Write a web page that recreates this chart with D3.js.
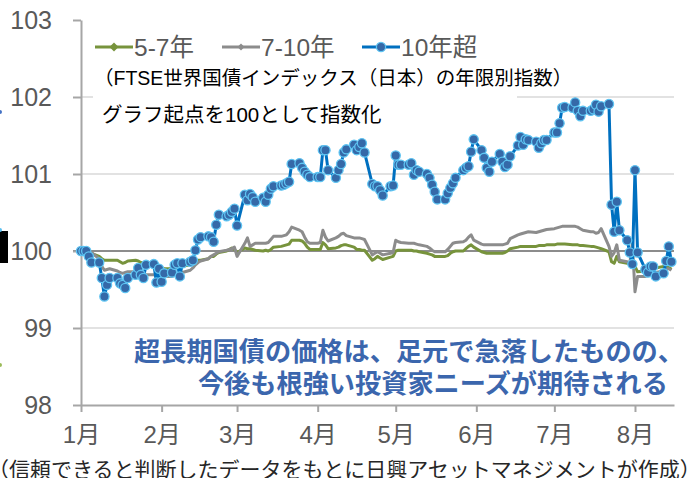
<!DOCTYPE html>
<html>
<head>
<meta charset="utf-8">
<script src="https://cdn.jsdelivr.net/npm/d3@7"></script>
<style>
  html, body { margin: 0; padding: 0; background: #fff; }
  #chart { width: 691px; height: 478px; overflow: hidden; }
  text { font-family: "Liberation Sans", "Noto Sans CJK JP", sans-serif; }
</style>
</head>
<body>
<div id="chart"></div>
<script>
// Series labels and axis ticks
const seriesNames = ['5-7年', '7-10年', '10年超'];
const yTicks = [98, 99, 100, 101, 102, 103];
const monthLabels = ['1月', '2月', '3月', '4月', '5月', '6月', '7月', '8月'];

// Daily index values (business days, Jan 1 - Aug 15), one line per month
const green = [
    100.00, 100.00, 100.00, 99.99, 99.97, 99.93, 99.90, 99.88, 99.88, 99.88, 99.88, 99.86, 99.84, 99.85, 99.87, 99.88, 99.87, 99.85, 99.84, 99.82, 99.81, 99.80, 99.78,
    99.78, 99.77, 99.77, 99.78, 99.78, 99.79, 99.80, 99.82, 99.84, 99.86, 99.88, 99.88, 99.90, 99.93, 99.93, 99.96, 99.98, 100.00, 100.02, 100.04, 100.02,
    99.98, 100.04, 100.03, 100.03, 100.02, 100.01, 100.00, 100.01, 100.00, 100.02, 100.05, 100.06, 100.07, 100.08, 100.09, 100.14, 100.14, 100.13, 100.10, 100.05, 100.02,
    100.02, 100.02, 100.11, 100.08, 100.03, 100.04, 100.05, 100.07, 100.08, 100.08, 100.05, 100.02, 100.02, 100.01, 100.01, 99.88, 99.90, 99.93, 99.91, 99.89, 99.92, 99.93,
    100.00, 100.01, 100.01, 100.01, 100.01, 100.00, 100.00, 99.99, 99.97, 99.96, 99.95, 99.93, 99.93, 99.93, 99.94, 99.97, 99.99, 100.00, 100.00, 100.03, 100.06, 100.08, 100.05,
    99.99, 99.98, 99.97, 99.97, 99.97, 99.97, 99.97, 99.98, 100.00, 100.03, 100.05, 100.06, 100.06, 100.06, 100.06, 100.06, 100.07, 100.07, 100.07, 100.08,
    100.08, 100.09, 100.09, 100.09, 100.09, 100.08, 100.08, 100.08, 100.07, 100.07, 100.06, 100.06, 100.05, 100.04, 100.03, 99.99, 99.86, 99.84, 99.93, 99.86, 99.84, 99.84, 99.82,
    99.80, 99.73, 99.74, 99.75, 99.75, 99.77, 99.78, 99.80, 99.79, 99.79, 99.76
];
const gray = [
    100.00, 100.00, 100.00, 100.00, 99.98, 99.90, 99.80, 99.75, 99.76, 99.77, 99.74, 99.72, 99.71, 99.72, 99.73, 99.73, 99.72, 99.72, 99.70, 99.69, 99.69, 99.68, 99.68,
    99.67, 99.67, 99.67, 99.68, 99.70, 99.71, 99.72, 99.75, 99.78, 99.82, 99.85, 99.87, 99.90, 99.93, 99.95, 99.97, 99.99, 100.01, 100.02, 100.03, 100.05,
    99.93, 100.10, 100.17, 100.06, 100.08, 100.10, 100.10, 100.10, 100.11, 100.15, 100.19, 100.19, 100.20, 100.21, 100.25, 100.31, 100.27, 100.25, 100.18, 100.12, 100.10,
    100.10, 100.11, 100.27, 100.18, 100.13, 100.17, 100.19, 100.22, 100.23, 100.20, 100.17, 100.17, 100.17, 100.16, 100.15, 99.95, 99.97, 99.99, 99.97, 99.95, 99.97, 99.98,
    100.14, 100.12, 100.11, 100.10, 100.10, 100.10, 100.09, 100.08, 100.06, 100.04, 100.01, 99.99, 99.99, 99.99, 100.02, 100.06, 100.10, 100.11, 100.12, 100.14, 100.18, 100.21, 100.14,
    100.09, 100.08, 100.08, 100.08, 100.08, 100.08, 100.08, 100.09, 100.10, 100.16, 100.21, 100.22, 100.23, 100.24, 100.25, 100.24, 100.25, 100.26, 100.27, 100.28,
    100.29, 100.30, 100.31, 100.32, 100.32, 100.32, 100.32, 100.31, 100.29, 100.27, 100.25, 100.25, 100.23, 100.24, 100.29, 100.06, 99.93, 99.98, 100.08, 99.88, 99.86, 99.84, 100.10,
    99.47, 99.67, 99.67, 99.68, 99.69, 99.70, 99.72, 99.74, 99.77, 99.77, 99.75
];
const blue = [
    100.00, 100.00, 100.00, 99.93, 99.85, 99.85, 99.65, 99.41, 99.56, 99.65, 99.65, 99.58, 99.56, 99.52, 99.65, 99.69, 99.78, 99.69, 99.65, 99.82, 99.83, 99.59, 99.77,
    99.60, 99.71, 99.72, 99.82, 99.84, 99.67, 99.84, 99.86, 99.88, 100.01, 100.15, 100.18, 100.19, 100.18, 100.12, 100.34, 100.47, 100.45, 100.47, 100.51, 100.55,
    100.33, 100.73, 100.66, 100.74, 100.70, 100.64, 100.69, 100.64, 100.73, 100.81, 100.84, 100.85, 100.86, 100.88, 100.90, 101.13, 101.14, 101.08, 101.03, 100.99, 100.96,
    100.96, 100.96, 101.31, 101.31, 101.05, 100.95, 101.05, 101.13, 101.28, 101.32, 101.38, 101.31, 101.35, 101.40, 101.28, 100.87, 100.84, 100.84, 100.79, 100.72, 100.84, 100.85,
    101.24, 101.12, 101.12, 101.12, 101.14, 100.99, 101.05, 101.03, 101.00, 100.95, 100.86, 100.77, 100.67, 100.67, 100.75, 100.82, 100.88, 100.95, 101.05, 101.08, 101.10, 101.29, 101.45,
    101.31, 101.21, 101.08, 101.03, 101.16, 101.26, 101.16, 101.09, 101.12, 101.23, 101.37, 101.48, 101.38, 101.45, 101.44, 101.42, 101.34, 101.40, 101.44, 101.44,
    101.54, 101.54, 101.66, 101.86, 101.87, 101.86, 101.93, 101.82, 101.75, 101.82, 101.82, 101.84, 101.90, 101.81, 101.88, 101.91, 100.60, 100.25, 100.64, 100.27, 100.14, 99.98, 99.83,
    101.05, 99.98, 99.76, 99.72, 99.80, 99.80, 99.67, 99.71, 99.87, 100.06, 99.86
];

const subtitle1 = '（FTSE世界国債インデックス（日本）の年限別指数）';
const subtitle2 = 'グラフ起点を100として指数化';
const note1 = '超長期国債の価格は、足元で急落したものの、';
const note2 = '今後も根強い投資家ニーズが期待される';
const source = '（信頼できると判断したデータをもとに日興アセットマネジメントが作成）';

function drawChart() {
    const width = 691, height = 478;
    const svg = d3.select('#chart').append('svg')
        .attr('width', width)
        .attr('height', height);

    svg.append('rect').attr('width', width).attr('height', height).attr('fill', '#fff');

    // business days of 2024 from Jan 1 to Aug 15
    const dates = d3.timeDay.range(new Date(2024, 0, 1), new Date(2024, 7, 16))
        .filter(d => d.getDay() !== 0 && d.getDay() !== 6);

    const x = d3.scaleTime()
        .domain([new Date(2024, 0, 1), new Date(2024, 7, 16)])
        .range([81, 674]);
    const y = d3.scaleLinear().domain([98, 103]).range([405, 20]);

    // gridlines
    svg.append('g').selectAll('line')
        .data(yTicks.filter(v => v !== 98 && v !== 100 && v !== 103))
        .enter().append('line')
        .attr('x1', 81).attr('x2', 674)
        .attr('y1', d => y(d)).attr('y2', d => y(d))
        .attr('stroke', '#d9d9d9').attr('stroke-width', 1.5);

    // white box behind the subtitle
    svg.append('rect').attr('x', 93).attr('y', 63).attr('width', 424).attr('height', 63).attr('fill', '#fff');

    // 100 line
    svg.append('line')
        .attr('x1', 73).attr('x2', 674)
        .attr('y1', y(100)).attr('y2', y(100))
        .attr('stroke', '#8c8c8c').attr('stroke-width', 2);

    // axes
    const yAxis = svg.append('g')
        .attr('transform', 'translate(81,0)')
        .call(d3.axisLeft(y).tickValues(yTicks).tickFormat(d3.format('d'))
            .tickSizeInner(8).tickSizeOuter(0).tickPadding(21));
    yAxis.selectAll('text').attr('font-size', 25).attr('fill', '#595959');

    const months = d3.timeMonth.range(new Date(2024, 0, 1), new Date(2024, 7, 2));
    const xAxis = svg.append('g')
        .attr('transform', `translate(0,${y(98)})`)
        .call(d3.axisBottom(x).tickValues(months).tickFormat((d, i) => monthLabels[i])
            .tickSizeInner(7).tickSizeOuter(0).tickPadding(14));
    xAxis.selectAll('text').attr('font-size', 24).attr('fill', '#595959');

    svg.selectAll('.domain, .tick line').attr('stroke', '#a6a6a6').attr('stroke-width', 2);

    const line = d3.line().x((d, i) => x(dates[i])).y(d => y(d));

    svg.append('path').datum(green)
        .attr('d', line).attr('fill', 'none')
        .attr('stroke', '#77933c').attr('stroke-width', 3).attr('stroke-linejoin', 'round');
    svg.append('path').datum(gray)
        .attr('d', line).attr('fill', 'none')
        .attr('stroke', '#8c8c8c').attr('stroke-width', 3).attr('stroke-linejoin', 'round');
    svg.append('path').datum(blue)
        .attr('d', line).attr('fill', 'none')
        .attr('stroke', '#0070c0').attr('stroke-width', 3).attr('stroke-linejoin', 'round');
    svg.append('g').selectAll('circle')
        .data(blue).enter().append('circle')
        .attr('cx', (d, i) => x(dates[i])).attr('cy', d => y(d))
        .attr('r', 4.6)
        .attr('fill', '#3569a8').attr('stroke', '#5ec4f2').attr('stroke-width', 1.3);

    // legend
    const legendX = [95, 222, 362];
    const legendColors = ['#77933c', '#8c8c8c', '#0070c0'];
    const lg = svg.append('g');
    seriesNames.forEach((name, i) => {
        const x0 = legendX[i];
        lg.append('line')
            .attr('x1', x0).attr('x2', x0 + 38).attr('y1', 47).attr('y2', 47)
            .attr('stroke', legendColors[i]).attr('stroke-width', 3);
        if (i < 2) {
            const s = i === 0 ? 4.5 : 3.5;
            lg.append('path')
                .attr('d', `M${x0 + 19},${47 - s}L${x0 + 19 + s},47L${x0 + 19},${47 + s}L${x0 + 19 - s},47Z`)
                .attr('fill', legendColors[i]);
        } else {
            lg.append('circle').attr('cx', x0 + 19).attr('cy', 47).attr('r', 4.6)
                .attr('fill', '#3569a8').attr('stroke', '#5ec4f2').attr('stroke-width', 1.3);
        }
        lg.append('text')
            .attr('x', x0 + 39).attr('y', 56)
            .attr('font-size', 24.5).attr('fill', '#595959')
            .text(name);
    });

    svg.append('text').attr('x', 94).attr('y', 85)
        .attr('font-size', 19.5).attr('fill', '#000').text(subtitle1);
    svg.append('text').attr('x', 102).attr('y', 122)
        .attr('font-size', 20.5).attr('fill', '#000').text(subtitle2);

    // annotation
    svg.append('text').attr('x', 684).attr('y', 361)
        .attr('text-anchor', 'end').attr('font-size', 26.2).attr('font-weight', 'bold')
        .attr('fill', '#3b66ad').text(note1);
    svg.append('text').attr('x', 668).attr('y', 393)
        .attr('text-anchor', 'end').attr('font-size', 26.2).attr('font-weight', 'bold')
        .attr('fill', '#3b66ad').text(note2);

    // source line (cut at the edges)
    svg.append('text').attr('x', -12).attr('y', 477)
        .attr('font-size', 21).attr('fill', '#262626').text(source);

    // left edge bits
    svg.append('rect').attr('x', 0).attr('y', 231).attr('width', 8).attr('height', 32).attr('fill', '#000');
    svg.append('circle').attr('cx', 0).attr('cy', 112).attr('r', 2).attr('fill', '#4472c4');
    svg.append('circle').attr('cx', 0).attr('cy', 230).attr('r', 2).attr('fill', '#5bc0f0');
    svg.append('circle').attr('cx', 0).attr('cy', 365).attr('r', 2).attr('fill', '#9bbb59');
}

document.addEventListener('DOMContentLoaded', drawChart);
</script>
</body>
</html>
